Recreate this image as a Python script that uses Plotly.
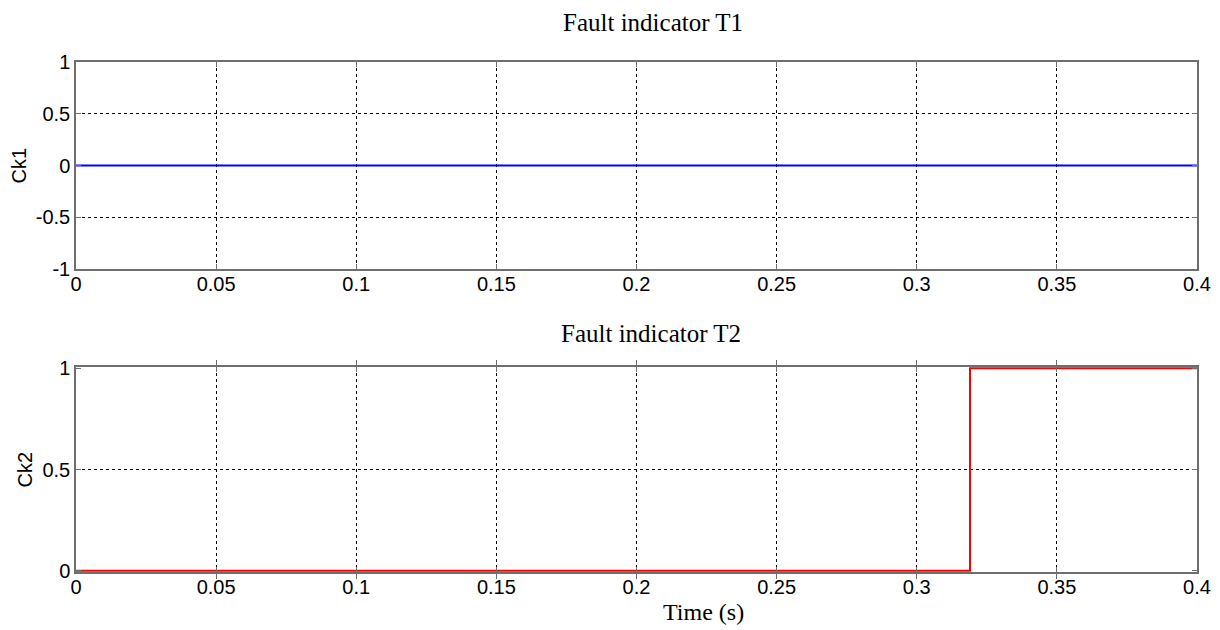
import plotly.graph_objects as go

# Data
t1 = [0.0, 0.4]
ck1 = [0, 0]
t2 = [0.0, 0.319, 0.319, 0.4]
ck2 = [0, 0, 1, 1]
x_ticks = [0, 0.05, 0.1, 0.15, 0.2, 0.25, 0.3, 0.35, 0.4]
x_tick_labels = ["0", "0.05", "0.1", "0.15", "0.2", "0.25", "0.3", "0.35", "0.4"]
y1_ticks = [-1, -0.5, 0, 0.5, 1]
y1_tick_labels = ["-1", "-0.5", "0", "0.5", "1"]
y2_ticks = [0, 0.5, 1]
y2_tick_labels = ["0", "0.5", "1"]
y2_grid = [0.5]

OFF = 8  # page body margin
W, H = 1220 - OFF, 630 - OFF
L, R, T, B = 75.5 - OFF, 1197 - OFF, 62 - OFF, 572 - OFF
ph = B - T

def ypaper(py):
    return (B - (py - OFF)) / ph

def xpaper(px):
    return ((px - OFF) - L) / (R - L)

fig = go.Figure()
fig.add_trace(go.Scatter(x=t1, y=ck1, mode="lines", line=dict(color="#0000ff", width=2),
                         xaxis="x", yaxis="y", showlegend=False))
fig.add_trace(go.Scatter(x=t2, y=ck2, mode="lines", line=dict(color="#ff0000", width=2),
                         xaxis="x2", yaxis="y2", showlegend=False))

tickfont = dict(family="Liberation Sans, Arial", size=20, color="#000000")
common_x = dict(range=[0, 0.4], tickvals=x_ticks, ticktext=x_tick_labels, showgrid=True,
                gridcolor="#000000", griddash="dot", gridwidth=1, zeroline=False,
                showline=True, linecolor="#6e6e6e", linewidth=1.5, mirror="allticks",
                ticks="inside", ticklen=5, tickcolor="#6e6e6e", tickfont=tickfont,
                automargin=False, ticklabelstandoff=-4)
common_y = dict(gridcolor="#000000", griddash="dot", gridwidth=1, zeroline=False,
                showline=True, linecolor="#6e6e6e", linewidth=1.5, mirror="allticks",
                ticks="inside", ticklen=5, tickcolor="#6e6e6e", tickfont=tickfont,
                automargin=False)
labfont = dict(family="Liberation Sans, Arial", size=20, color="#000")
titfont = dict(family="Liberation Serif, Times New Roman", size=25, color="#000")

y2_range = [-0.006, 1.006]
y2_domain = [0, ypaper(367)]

fig.update_layout(
    template="none",
    width=W, height=H,
    margin=dict(l=L, r=W - R, t=T, b=H - B, pad=0),
    paper_bgcolor="white", plot_bgcolor="white",
    xaxis=dict(domain=[0, 1], anchor="y", **common_x),
    yaxis=dict(domain=[ypaper(269), 1], anchor="x", range=[-1, 1], tickvals=y1_ticks,
               ticktext=y1_tick_labels, showgrid=True, **common_y),
    xaxis2=dict(domain=[0, 1], anchor="y2", **common_x),
    yaxis2=dict(domain=y2_domain, anchor="x2", range=y2_range, tickvals=y2_ticks,
                ticktext=y2_tick_labels, showgrid=False, **common_y),
    yaxis3=dict(domain=y2_domain, anchor="x2", overlaying="y2", range=y2_range,
                tickvals=y2_grid, showticklabels=False, ticks="", showline=False,
                showgrid=True, gridcolor="#000000", griddash="dot", gridwidth=1,
                zeroline=False, automargin=False),
    annotations=[
        dict(text="Fault indicator T1", x=xpaper(653), y=ypaper(22), xref="paper", yref="paper",
             xanchor="center", yanchor="middle", showarrow=False, font=titfont),
        dict(text="Fault indicator T2", x=xpaper(651), y=ypaper(333), xref="paper", yref="paper",
             xanchor="center", yanchor="middle", showarrow=False, font=titfont),
        dict(text="Time (s)", x=xpaper(703), y=ypaper(612), xref="paper", yref="paper",
             xanchor="center", yanchor="middle", showarrow=False,
             font=dict(family="Liberation Serif, Times New Roman", size=24, color="#000")),
        dict(text="Ck1", x=xpaper(18), y=ypaper(166), xref="paper", yref="paper", textangle=-90,
             xanchor="center", yanchor="middle", showarrow=False, font=labfont),
        dict(text="Ck2", x=xpaper(24), y=ypaper(470), xref="paper", yref="paper", textangle=-90,
             xanchor="center", yanchor="middle", showarrow=False, font=labfont),
    ],
)
# a hidden trace so the grid-only axis is drawn
fig.add_trace(go.Scatter(x=[None], y=[None], xaxis="x2", yaxis="y3", showlegend=False,
                         hoverinfo="skip"))

fig.write_html("out.html")
